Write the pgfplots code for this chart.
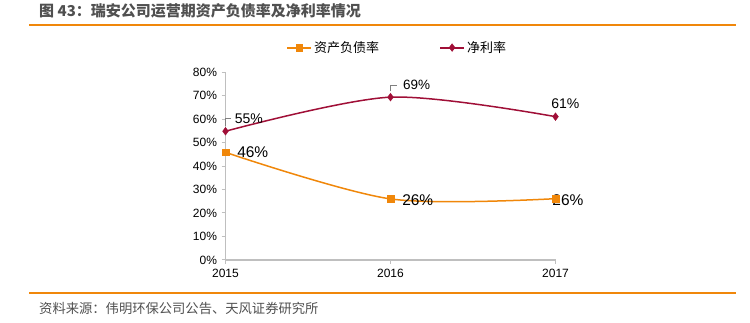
\documentclass[border=0pt]{standalone}
\usepackage{pgfplots}
\pgfplotsset{compat=1.18}
\usepackage{fontspec}
\setmainfont{Liberation Sans}
\newfontfamily\cjk{Noto Sans CJK SC}
\definecolor{ora}{RGB}{240,135,10}
\definecolor{wine}{RGB}{160,15,55}
\definecolor{axgray}{RGB}{191,191,191}
\definecolor{ttl}{RGB}{80,80,80}
\begin{document}
\begin{tikzpicture}
\path[use as bounding box] (0pt,0pt) rectangle (750pt,323pt);
% title and rules
\node[anchor=west,inner sep=0pt,text=ttl] at (39pt,312.5pt) {\fontsize{15}{17}\selectfont\cjk\bfseries 图 43：瑞安公司运营期资产负债率及净利率情况};
\draw[ora,line width=2pt] (29pt,297.5pt) -- (736pt,297.5pt);
\draw[ora,line width=2pt] (29pt,30pt) -- (736pt,30pt);
\node[anchor=west,inner sep=0pt,text=ttl] at (39pt,15pt) {\fontsize{13.3}{15}\selectfont\cjk 资料来源：伟明环保公司公告、天风证券研究所};
\begin{axis}[
  at={(225.5pt,63pt)}, anchor=south west,
  scale only axis, width=330pt, height=188pt,
  xmin=0, xmax=2, ymin=0, ymax=80,
  xtick={0,1,2},
  xticklabels={2015,2016,2017},
  ytick={0,10,...,80},
  yticklabel={\pgfmathprintnumber{\tick}\%},
  /pgf/number format/assume math mode=true,
  axis x line*=bottom, axis y line*=left,
  axis line style={axgray,line width=1.2pt,-},
  tick style={axgray,line width=1pt},
  tick align=outside, major tick length=4pt,
  tick label style={font=\fontsize{12}{14}\selectfont, text=black},
  yticklabel style={xshift=-1pt},
  xticklabel style={yshift=-2pt},
  clip=false,
  legend columns=2,
  legend style={draw=none, fill=none, at={(0.52,1.13)}, anchor=center,
    font=\fontsize{13}{15}\selectfont\cjk, /tikz/every even column/.append style={column sep=58pt}},
  legend image code/.code={\draw[line width=2pt,mark repeat=2,mark phase=2] plot coordinates {(0pt,0pt)(12pt,0pt)(24pt,0pt)};},
]
\addplot[ora, line width=1.5pt, smooth, mark=square*, mark size=3.3pt, mark options={solid,fill=ora,draw=ora,line width=0.5pt}]
  coordinates {(0,45.8) (1,26.0) (2,26.1)};
\addlegendentry{资产负债率}
\addplot[wine, line width=1.5pt, smooth, mark=diamond*, mark size=3.8pt, mark options={solid,fill=wine,draw=wine,line width=0.5pt}]
  coordinates {(0,54.8) (1,69.3) (2,61.0)};
\addlegendentry{净利率}
% data labels
\draw[gray,line width=0.7pt] (axis cs:0,57.2) -- (axis cs:0,60.4) -- (axis cs:0.035,60.4);
\node[anchor=west,inner sep=0pt,font=\fontsize{14}{16}\selectfont] at (axis cs:0.055,60.3) {55\%};
\draw[gray,line width=0.7pt] (axis cs:1,71.8) -- (axis cs:1,74.5) -- (axis cs:1.04,74.5);
\node[anchor=west,inner sep=0pt,font=\fontsize{13.5}{16}\selectfont] at (axis cs:1.075,74.4) {69\%};
\node[anchor=center,inner sep=0pt,font=\fontsize{14}{16}\selectfont] at (axis cs:2.06,66.7) {61\%};
\node[anchor=west,inner sep=0pt,font=\fontsize{15.5}{18}\selectfont] at (axis cs:0.07,45.8) {46\%};
\node[anchor=west,inner sep=0pt,font=\fontsize{15.5}{18}\selectfont] at (axis cs:1.07,25.5) {26\%};
\node[anchor=west,inner sep=0pt,font=\fontsize{15.5}{18}\selectfont] at (axis cs:1.98,25.5) {26\%};
\end{axis}
\end{tikzpicture}
\end{document}
